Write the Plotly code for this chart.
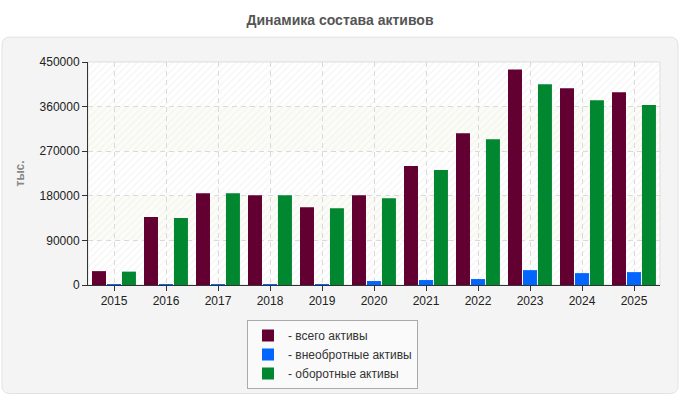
import plotly.graph_objects as go

years = ["2015", "2016", "2017", "2018", "2019", "2020", "2021", "2022", "2023", "2024", "2025"]
total_assets = [28000, 137000, 185000, 181000, 157000, 181000, 240000, 306000, 435000, 397000, 389000]
noncurrent_assets = [2000, 2000, 2000, 2000, 2000, 8000, 10000, 12000, 30000, 24000, 26000]
current_assets = [27000, 135000, 185000, 181000, 155000, 175000, 232000, 294000, 405000, 373000, 363000]
names = ["- всего активы", "- внеобротные активы", "- оборотные активы"]
y_ticks = [0, 90000, 180000, 270000, 360000, 450000]

colors = ["#630032", "#0066ff", "#00872f"]
offsets = [-0.423, -0.135, 0.153]
bar_w = 0.269

W, H = 680, 400
L, R, T, B = 88, 20, 62, 114
pw, ph = W - L - R, H - T - B


def px_x(p):
    return (p - L) / pw


def px_y(p):
    return (T + ph - p) / ph


fig = go.Figure()

# hatched background of plot area
fig.add_trace(go.Bar(
    x=[years[0]], y=[y_ticks[-1]], offset=-0.5, width=len(years),
    marker=dict(color="rgba(0,0,0,0)", line=dict(width=0),
                pattern=dict(shape="/", fgcolor="#e9e9e9", bgcolor="rgba(0,0,0,0)",
                             size=5, solidity=0.25, fillmode="overlay")),
    showlegend=False, hoverinfo="skip"))

for vals, name, c, off in zip([total_assets, noncurrent_assets, current_assets], names, colors, offsets):
    fig.add_trace(go.Bar(x=years, y=vals, name=name, offset=off, width=bar_w,
                         marker=dict(color=c, line=dict(width=0))))

# rounded panel
rx, ry = 8 / pw, 8 / ph
x0, x1 = px_x(2), px_x(678)
y0, y1 = px_y(395), px_y(37)
path = (f"M {x0+rx},{y1} L {x1-rx},{y1} Q {x1},{y1} {x1},{y1-ry} "
        f"L {x1},{y0+ry} Q {x1},{y0} {x1-rx},{y0} L {x0+rx},{y0} "
        f"Q {x0},{y0} {x0},{y0+ry} L {x0},{y1-ry} Q {x0},{y1} {x0+rx},{y1} Z")
shapes = [
    dict(type="path", path=path, xref="paper", yref="paper", layer="below",
         fillcolor="#f4f4f4", line=dict(color="#e2e2e2", width=1)),
    dict(type="rect", xref="paper", yref="paper", x0=0, x1=1, y0=0, y1=1, layer="below",
         fillcolor="#ffffff", line=dict(width=0)),
]
for lo, hi in [(y_ticks[1], y_ticks[2]), (y_ticks[3], y_ticks[4])]:
    shapes.append(dict(type="rect", xref="paper", yref="y", x0=0, x1=1, y0=lo, y1=hi,
                       layer="below", fillcolor="#fcfcf7", line=dict(width=0)))
shapes.append(dict(type="rect", xref="paper", yref="paper", x0=0, x1=1, y0=0, y1=1,
                   layer="below", fillcolor="rgba(0,0,0,0)", line=dict(color="#dddddd", width=1)))

fig.update_layout(
    width=W, height=H, autosize=False,
    margin=dict(l=L, r=R, t=T, b=B, pad=0),
    paper_bgcolor="#ffffff", plot_bgcolor="rgba(0,0,0,0)",
    font=dict(family="Liberation Sans, Arial, sans-serif", size=12, color="#222"),
    barmode="overlay",
    title=dict(text="<b>Динамика состава активов</b>", x=0.5, xref="container", xanchor="center",
               y=1 - 20 / H, yref="container", yanchor="middle",
               font=dict(size=14, color="#555555")),
    xaxis=dict(type="category", range=[-0.5, len(years) - 0.5], showline=True, linecolor="#333",
               linewidth=1, ticks="outside", ticklen=5, tickcolor="#333",
               showgrid=True, gridcolor="#d8d8d8", griddash="5px,4px", gridwidth=1,
               tickfont=dict(size=12, color="#222"), fixedrange=True),
    yaxis=dict(range=[0, y_ticks[-1]], tickvals=y_ticks, ticktext=[str(v) for v in y_ticks],
               showline=True, linecolor="#333", linewidth=1, ticks="outside", ticklen=5,
               tickcolor="#333", showgrid=True, gridcolor="#d8d8d8", griddash="5px,4px",
               gridwidth=1, zeroline=False, tickfont=dict(size=12, color="#222"), fixedrange=True),
    shapes=shapes,
    annotations=[dict(text="<b>тыс.</b>", x=px_x(19), y=0.5, xref="paper", yref="paper",
                      textangle=-90, showarrow=False, xanchor="center", yanchor="middle",
                      font=dict(size=12, color="#888888"))],
    legend=dict(x=px_x(247), y=px_y(320), xanchor="left", yanchor="top",
                bgcolor="#fafafa", bordercolor="#aaaaaa", borderwidth=1,
                font=dict(size=12, color="#333"), traceorder="normal", itemclick=False,
                itemwidth=30),
    showlegend=True,
)

fig.write_html("out.html")
